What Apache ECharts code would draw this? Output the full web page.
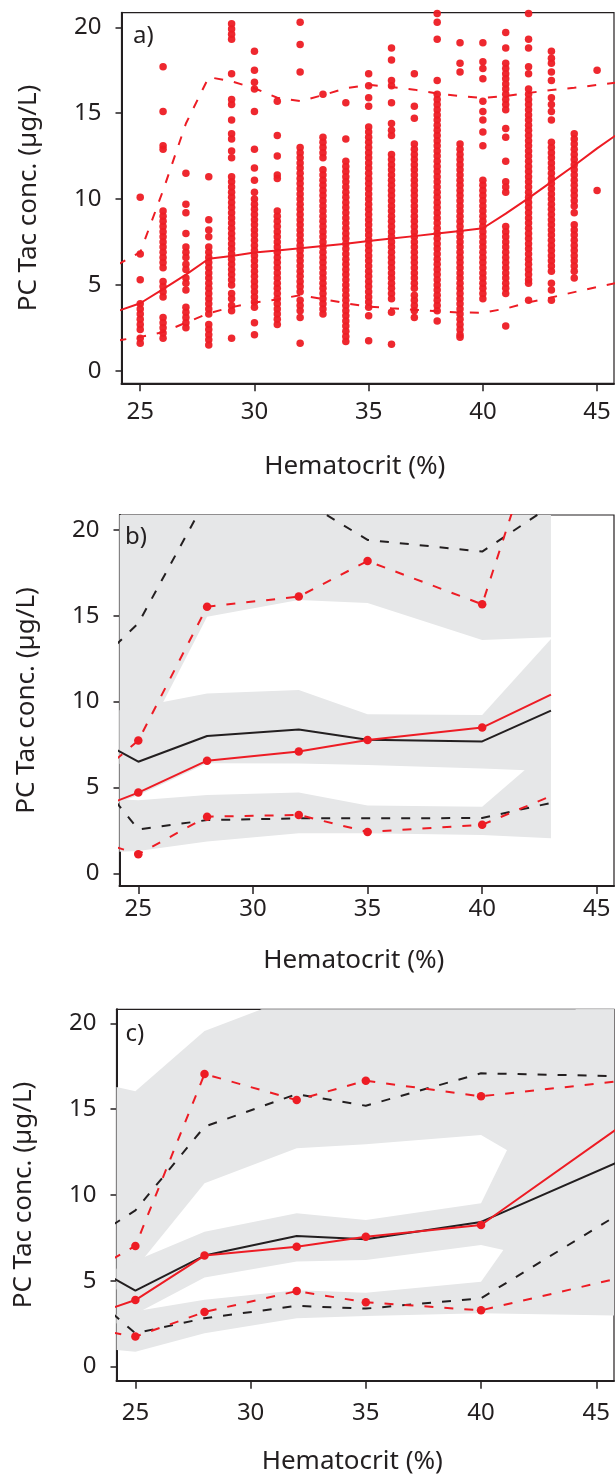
<!DOCTYPE html>
<html>
<head>
<meta charset="utf-8">
<script src="https://cdn.jsdelivr.net/npm/echarts@6/dist/echarts.min.js"></script>
<style>
  html, body { margin: 0; padding: 0; background: #fff; }
  #chart { width: 615px; height: 1479px; }
</style>
</head>
<body>
<div id="chart"></div>
<script>
// ---------- shared ticks ----------
const hctTicks = [25, 30, 35, 40, 45];
const concTicks = [0, 5, 10, 15, 20];

// ---------- panel a: observed concentrations by hematocrit ----------
const obsHct = [25, 26, 27, 28, 29, 30, 31, 32, 33, 34, 35, 36, 37, 38, 39, 40, 41, 42, 43, 44, 45];
const obsConc = [
  [10.1, 6.8, 5.3, 3.9, 3.6, 3.3, 3.0, 2.7, 2.4, 1.9, 1.6],
  [17.7, 15.1, 13.1, 12.9, 9.3, 9.0, 8.7, 8.4, 8.1, 7.8, 7.5, 7.2, 6.9, 6.6, 6.3, 6.0, 5.2, 4.9, 4.6, 4.3, 3.1, 2.8, 2.5, 2.2, 1.9],
  [11.5, 9.7, 9.2, 8.0, 7.2, 6.9, 6.6, 6.2, 5.9, 5.4, 5.1, 4.7, 3.7, 3.4, 3.1, 2.8, 2.5],
  [11.3, 8.8, 8.2, 7.8, 7.2, 6.9, 6.6, 6.3, 6.0, 5.7, 5.4, 5.1, 4.8, 4.5, 4.2, 3.9, 3.6, 3.3, 2.7, 2.4, 2.1, 1.8, 1.5],
  [20.2, 19.9, 19.6, 19.3, 17.3, 15.8, 15.5, 14.6, 13.8, 13.5, 12.8, 12.4, 11.3, 11.0, 10.7, 10.4, 10.1, 9.8, 9.5, 9.2, 8.9, 8.6, 8.3, 8.0, 7.7, 7.4, 7.1, 6.8, 6.5, 6.2, 5.9, 5.6, 5.3, 5.0, 4.5, 4.2, 3.8, 3.5, 1.9],
  [18.6, 17.5, 16.8, 16.4, 15.1, 12.9, 11.8, 11.1, 10.4, 10.0, 9.7, 9.4, 9.1, 8.8, 8.5, 8.2, 7.9, 7.6, 7.3, 7.0, 6.7, 6.4, 6.1, 5.8, 5.5, 5.2, 4.9, 4.6, 4.3, 4.0, 3.7, 2.8, 2.1],
  [15.7, 13.7, 12.5, 11.4, 11.2, 9.3, 9.0, 8.7, 8.4, 8.1, 7.8, 7.5, 7.2, 6.9, 6.6, 6.3, 6.0, 5.7, 5.4, 5.1, 4.8, 4.5, 4.2, 3.9, 3.6, 3.3, 3.0, 2.7],
  [20.3, 19.0, 17.4, 13.0, 12.7, 12.4, 12.1, 11.8, 11.5, 11.2, 10.9, 10.6, 10.3, 10.0, 9.7, 9.4, 9.1, 8.8, 8.5, 8.2, 7.9, 7.6, 7.3, 7.0, 6.7, 6.4, 6.1, 5.8, 5.5, 5.2, 4.9, 4.6, 4.1, 3.8, 3.5, 3.1, 1.6],
  [16.1, 13.6, 13.3, 13.0, 12.7, 12.4, 11.7, 11.4, 11.1, 10.8, 10.5, 10.2, 9.9, 9.6, 9.3, 9.0, 8.7, 8.4, 8.1, 7.8, 7.5, 7.2, 6.9, 6.6, 6.3, 6.0, 5.7, 5.4, 5.1, 4.8, 4.5, 4.2, 3.9, 3.6, 3.3],
  [15.6, 13.5, 12.2, 11.9, 11.6, 11.3, 11.0, 10.7, 10.4, 10.1, 9.8, 9.5, 9.2, 8.9, 8.6, 8.3, 8.0, 7.7, 7.4, 7.1, 6.8, 6.5, 6.2, 5.9, 5.6, 5.3, 5.0, 4.7, 4.4, 4.1, 3.8, 3.5, 3.2, 2.9, 2.6, 2.3, 2.0, 1.7],
  [17.3, 16.6, 15.9, 15.4, 14.2, 13.9, 13.6, 13.3, 13.0, 12.7, 12.4, 12.1, 11.8, 11.5, 11.2, 10.9, 10.6, 10.3, 10.0, 9.7, 9.4, 9.1, 8.8, 8.5, 8.2, 7.9, 7.6, 7.3, 7.0, 6.7, 6.4, 6.1, 5.8, 5.5, 5.2, 4.9, 4.6, 4.3, 4.0, 3.7, 3.2, 1.75],
  [18.8, 18.1, 16.9, 16.6, 15.6, 14.4, 14.0, 13.7, 12.6, 12.3, 12.0, 11.7, 11.4, 11.1, 10.8, 10.5, 10.2, 9.9, 9.6, 9.3, 9.0, 8.7, 8.4, 8.1, 7.8, 7.5, 7.2, 6.9, 6.6, 6.3, 6.0, 5.7, 5.4, 5.1, 4.8, 4.5, 4.2, 3.4, 1.55],
  [17.3, 15.4, 14.7, 13.2, 12.9, 12.6, 12.3, 12.0, 11.7, 11.4, 11.1, 10.8, 10.5, 10.2, 9.9, 9.6, 9.3, 9.0, 8.7, 8.4, 8.1, 7.8, 7.5, 7.2, 6.9, 6.6, 6.3, 6.0, 5.7, 5.4, 5.1, 4.8, 4.4, 4.1, 3.8, 3.5, 3.1],
  [20.8, 20.3, 19.3, 16.9, 16.1, 15.8, 15.5, 15.2, 14.9, 14.6, 14.3, 14.0, 13.7, 13.4, 13.1, 12.8, 12.5, 12.2, 11.9, 11.6, 11.3, 11.0, 10.7, 10.4, 10.1, 9.8, 9.5, 9.2, 8.9, 8.6, 8.3, 8.0, 7.7, 7.4, 7.1, 6.8, 6.5, 6.2, 5.9, 5.6, 5.3, 5.0, 4.7, 4.4, 4.1, 3.8, 3.5, 2.9],
  [19.1, 17.9, 17.4, 13.2, 12.9, 12.6, 12.3, 12.0, 11.7, 11.4, 11.1, 10.8, 10.5, 10.2, 9.9, 9.6, 9.3, 9.0, 8.7, 8.4, 8.1, 7.8, 7.5, 7.2, 6.9, 6.6, 6.3, 6.0, 5.7, 5.4, 5.1, 4.8, 4.5, 4.2, 3.9, 3.6, 3.3, 3.0, 2.7, 2.4, 2.1, 1.95],
  [19.1, 18.0, 17.6, 17.0, 15.7, 15.1, 14.6, 13.9, 13.1, 11.1, 10.8, 10.5, 10.2, 9.9, 9.6, 9.3, 9.0, 8.7, 8.4, 8.1, 7.8, 7.5, 7.2, 6.9, 6.6, 6.3, 6.0, 5.7, 5.4, 5.1, 4.8, 4.5, 4.2],
  [19.7, 18.8, 17.9, 17.6, 17.3, 17.0, 16.7, 16.4, 16.1, 15.8, 15.5, 15.2, 14.1, 13.6, 12.2, 11.0, 10.7, 10.4, 8.4, 8.1, 7.8, 7.5, 7.2, 6.9, 6.6, 6.3, 6.0, 5.7, 5.4, 5.1, 4.8, 4.5, 2.6],
  [20.8, 19.3, 18.8, 17.7, 17.3, 16.4, 16.1, 15.8, 15.5, 15.2, 14.9, 14.6, 14.3, 14.0, 13.7, 13.4, 13.1, 12.8, 12.5, 12.2, 11.9, 11.6, 11.3, 11.0, 10.7, 10.4, 10.1, 9.8, 9.5, 9.2, 8.9, 8.6, 8.3, 8.0, 7.7, 7.4, 7.1, 6.8, 6.5, 6.2, 5.9, 5.6, 5.3, 5.1, 4.1],
  [18.6, 18.2, 17.9, 17.4, 16.9, 15.9, 15.5, 15.1, 14.6, 13.3, 13.0, 12.7, 12.4, 12.1, 11.8, 11.5, 11.2, 10.9, 10.6, 10.3, 10.0, 9.7, 9.4, 9.1, 8.8, 8.5, 8.2, 7.9, 7.6, 7.3, 7.0, 6.7, 6.4, 6.1, 5.8, 5.1, 4.7, 4.1],
  [13.8, 13.5, 13.2, 12.9, 12.6, 12.3, 12.0, 11.7, 11.4, 11.1, 10.8, 10.5, 10.2, 9.9, 9.6, 9.2, 8.5, 8.2, 7.9, 7.6, 7.3, 7.0, 6.7, 6.4, 6.1, 5.8, 5.4],
  [17.5, 10.5]
];

// observed 50th / 95th / 5th percentile lines (panel a)
const pctHctA = [24, 25, 26, 27, 28, 29, 30, 31, 32, 33, 34, 35, 36, 37, 38, 39, 40, 41, 42, 43, 44, 45, 46];
const p50A = [3.47, 3.93, 4.75, 5.6, 6.52, 6.68, 6.88, 7.0, 7.14, 7.26, 7.39, 7.55, 7.7, 7.84, 7.99, 8.14, 8.3, 9.15, 10.05, 11.0, 11.95, 12.95, 13.88];
const p95A = [6.17, 6.9, 10.5, 14.4, 17.1, 16.85, 16.45, 15.9, 15.7, 16.05, 16.45, 16.65, 16.52, 16.37, 16.15, 16.0, 15.88, 16.0, 16.18, 16.35, 16.48, 16.64, 16.8];
const p5A = [1.76, 1.97, 2.25, 2.8, 3.35, 3.7, 3.98, 4.15, 4.4, 4.18, 3.93, 3.74, 3.64, 3.55, 3.47, 3.39, 3.38, 3.62, 3.98, 4.27, 4.58, 4.88, 5.15];

// ---------- panel b: binned observed (red) vs predicted (black) ----------
const binHctB = [24, 25, 28, 32, 35, 40, 43];
const obsP50B = [4.18, 4.7, 6.56, 7.09, 7.77, 8.49, 10.41];
const obsP95B = [6.6, 7.73, 15.53, 16.12, 18.19, 15.67, 28.0];
const obsP5B = [1.54, 1.11, 3.3, 3.4, 2.41, 2.83, 4.5];
const predP50B = [7.23, 6.5, 8.0, 8.37, 7.78, 7.68, 9.48];
const predP95B = [13.27, 14.56, 21.9, 21.85, 19.42, 18.74, 21.4];
const predP5B = [4.2, 2.55, 3.1, 3.2, 3.2, 3.22, 4.1];
// 90% confidence bands of the predicted percentiles
const ci95HiB = [22, 22, 22, 22, 22, 22, 22];
const ci95LoB = [6.2, 7.15, 14.95, 15.92, 15.75, 13.59, 13.75];
const ci50HiB = [9.45, 9.7, 10.48, 10.68, 9.27, 9.22, 13.65];
const ci50LoB = [4.05, 4.55, 6.41, 6.4, 6.31, 6.1, 5.95];
const ci5HiB = [4.32, 4.25, 4.56, 4.7, 3.95, 3.88, 7.33];
const ci5LoB = [1.24, 1.3, 1.85, 2.33, 2.33, 2.23, 2.04];

// ---------- panel c ----------
const binHctC = [24, 25, 28, 32, 35, 40, 46];
const obsP50C = [3.42, 3.88, 6.47, 6.99, 7.57, 8.25, 13.95];
const obsP95C = [6.26, 7.03, 17.05, 15.53, 16.66, 15.75, 16.63];
const obsP5C = [1.98, 1.75, 3.18, 4.4, 3.75, 3.28, 5.16];
const predP50C = [5.19, 4.43, 6.47, 7.61, 7.42, 8.43, 11.95];
const predP95C = [8.25, 9.1, 13.98, 15.88, 15.2, 17.09, 16.92];
const predP5C = [3.11, 1.94, 2.82, 3.54, 3.38, 3.98, 8.9];
const ci95HiC = [16.35, 16.05, 19.55, 21.6, 22, 22, 22];
const ci95LoC = [4.2, 5.72, 10.68, 12.72, 12.95, 13.49, 8.8];
const ci50HiC = [5.6, 6.17, 7.86, 8.93, 8.54, 9.52, 26];
const ci50LoC = [2.4, 3.06, 5.2, 6.12, 6.21, 7.09, 5.3];
const ci5HiC = [3.0, 3.22, 3.9, 4.45, 4.3, 4.95, 16.4];
const ci5LoC = [0.99, 0.87, 1.94, 2.82, 2.95, 3.11, 2.98];

// ---------- styling ----------
const FONT = 'Noto Sans';
const INK = '#231f20';
const RED = '#ed1c24';
const GREY = '#e6e7e8';
const DASH = [9, 11];

// plot frames (pixels) and axis windows for the three stacked panels
const frames = [
  { left: 121.5, top: 12.7, height: 370.6, xMin: 24.18, xMax: 45.74, yMin: -0.73, yMax: 20.85, tag: 'a)', tagX: 133, tagY: 36, labelGap: 17, nameGap: 70 },
  { left: 119.5, top: 515, height: 371, xMin: 24.18, xMax: 45.75, yMin: -0.74, yMax: 20.87, tag: 'b)', tagX: 125, tagY: 537, labelGap: 11, nameGap: 62 },
  { left: 116.5, top: 1009.3, height: 371.4, xMin: 24.18, xMax: 45.77, yMin: -0.82, yMax: 20.82, tag: 'c)', tagX: 125.5, tagY: 1034, labelGap: 20, nameGap: 68 }
];

// clip a polygon (pixel points) to a rectangle
function clipPoly(pts, r) {
  const x0 = r.x, x1 = r.x + r.width, y0 = r.y, y1 = r.y + r.height;
  const planes = [
    [p => p[0] >= x0, (a, b) => { const t = (x0 - a[0]) / (b[0] - a[0]); return [x0, a[1] + t * (b[1] - a[1])]; }],
    [p => p[0] <= x1, (a, b) => { const t = (x1 - a[0]) / (b[0] - a[0]); return [x1, a[1] + t * (b[1] - a[1])]; }],
    [p => p[1] >= y0, (a, b) => { const t = (y0 - a[1]) / (b[1] - a[1]); return [a[0] + t * (b[0] - a[0]), y0]; }],
    [p => p[1] <= y1, (a, b) => { const t = (y1 - a[1]) / (b[1] - a[1]); return [a[0] + t * (b[0] - a[0]), y1]; }]
  ];
  let out = pts;
  for (const [inside, cut] of planes) {
    const src = out;
    out = [];
    for (let i = 0; i < src.length; i++) {
      const cur = src[i], prev = src[(i + src.length - 1) % src.length];
      if (inside(cur)) {
        if (!inside(prev)) out.push(cut(prev, cur));
        out.push(cur);
      } else if (inside(prev)) {
        out.push(cut(prev, cur));
      }
    }
    if (!out.length) break;
  }
  return out;
}

function bandSeries(idx, xs, bands) {
  return {
    type: 'custom',
    xAxisIndex: idx, yAxisIndex: idx,
    z: 1,
    silent: true,
    data: bands.map(b => [xs[1], b[1][1]]),
    renderItem: function (params, api) {
      const b = bands[params.dataIndex];
      const pts = [];
      xs.forEach((x, i) => pts.push(api.coord([x, b[0][i]])));
      for (let i = xs.length - 1; i >= 0; i--) pts.push(api.coord([xs[i], b[1][i]]));
      const cs = params.coordSys;
      return {
        type: 'polygon',
        shape: { points: clipPoly(pts, cs) },
        style: { fill: GREY, stroke: null }
      };
    }
  };
}

function pair(xs, ys, markEnds) {
  return xs.map((x, i) => {
    const edge = i === 0 || i === xs.length - 1;
    return (markEnds && edge) ? { value: [x, ys[i]], symbol: 'none' } : [x, ys[i]];
  });
}

function lineSeries(idx, xs, ys, color, dashed, dots) {
  return {
    type: 'line',
    xAxisIndex: idx, yAxisIndex: idx,
    z: 3,
    clip: true,
    silent: true,
    data: pair(xs, ys, dots),
    symbol: dots ? 'circle' : 'none',
    symbolSize: 8.5,
    showSymbol: !!dots,
    itemStyle: { color: color },
    lineStyle: { color: color, width: 2, type: dashed ? DASH : 'solid' },
    animation: false
  };
}

const grids = frames.map(f => ({
  left: f.left, top: f.top, height: f.height, right: 1,
  show: true, borderColor: INK, borderWidth: 1.2, backgroundColor: 'transparent'
}));

const xAxes = frames.map((f, i) => ({
  gridIndex: i, type: 'value', min: f.xMin, max: f.xMax,
  axisLine: { onZero: false, lineStyle: { color: INK, width: 2 } },
  axisTick: { show: true, length: 8, customValues: hctTicks, lineStyle: { color: INK, width: 1.5 } },
  axisLabel: { customValues: hctTicks, fontFamily: FONT, fontSize: 24, color: INK, margin: f.labelGap },
  splitLine: { show: false },
  name: 'Hematocrit (%)', nameLocation: 'middle', nameGap: f.nameGap,
  nameTextStyle: { fontFamily: FONT, fontSize: 26, color: INK, padding: [0, 26, 0, 0] }
}));

const yAxes = frames.map((f, i) => ({
  gridIndex: i, type: 'value', min: f.yMin, max: f.yMax,
  axisLine: { show: true, onZero: false, lineStyle: { color: INK, width: 2 } },
  axisTick: { show: true, length: 6, customValues: concTicks, lineStyle: { color: INK, width: 1.5 } },
  axisLabel: { customValues: concTicks, fontFamily: FONT, fontSize: 24, color: INK, margin: 20 },
  splitLine: { show: false },
  name: 'PC Tac conc. (µg/L)', nameLocation: 'middle', nameGap: 80,
  nameTextStyle: { fontFamily: FONT, fontSize: 26, color: INK }
}));

// scatter points for panel a
const scatterA = [];
obsHct.forEach((h, i) => obsConc[i].forEach(v => scatterA.push([h, v])));

const series = [
  {
    type: 'scatter', xAxisIndex: 0, yAxisIndex: 0, z: 2, silent: true,
    symbol: 'circle', symbolSize: 7.5, itemStyle: { color: RED, opacity: 0.95 },
    data: scatterA, animation: false
  },
  lineSeries(0, pctHctA, p50A, RED, false, false),
  lineSeries(0, pctHctA, p95A, RED, true, false),
  lineSeries(0, pctHctA, p5A, RED, true, false),

  bandSeries(1, binHctB, [[ci95HiB, ci95LoB], [ci50HiB, ci50LoB], [ci5HiB, ci5LoB]]),
  lineSeries(1, binHctB, predP50B, INK, false, false),
  lineSeries(1, binHctB, predP95B, INK, true, false),
  lineSeries(1, binHctB, predP5B, INK, true, false),
  lineSeries(1, binHctB, obsP50B, RED, false, true),
  lineSeries(1, binHctB, obsP95B, RED, true, true),
  lineSeries(1, binHctB, obsP5B, RED, true, true),

  bandSeries(2, binHctC, [[ci95HiC, ci95LoC], [ci50HiC, ci50LoC], [ci5HiC, ci5LoC]]),
  lineSeries(2, binHctC, predP50C, INK, false, false),
  lineSeries(2, binHctC, predP95C, INK, true, false),
  lineSeries(2, binHctC, predP5C, INK, true, false),
  lineSeries(2, binHctC, obsP50C, RED, false, true),
  lineSeries(2, binHctC, obsP95C, RED, true, true),
  lineSeries(2, binHctC, obsP5C, RED, true, true)
];

const chart = echarts.init(document.getElementById('chart'), null, { renderer: 'canvas' });
chart.setOption({
  backgroundColor: '#fff',
  animation: false,
  grid: grids,
  xAxis: xAxes,
  yAxis: yAxes,
  series: series,
  graphic: frames.map(f => ({
    type: 'text', x: f.tagX, y: f.tagY, z: 10,
    style: { text: f.tag, font: '24px "Noto Sans"', fill: INK, textAlign: 'left', textVerticalAlign: 'middle' }
  }))
});
</script>
</body>
</html>
